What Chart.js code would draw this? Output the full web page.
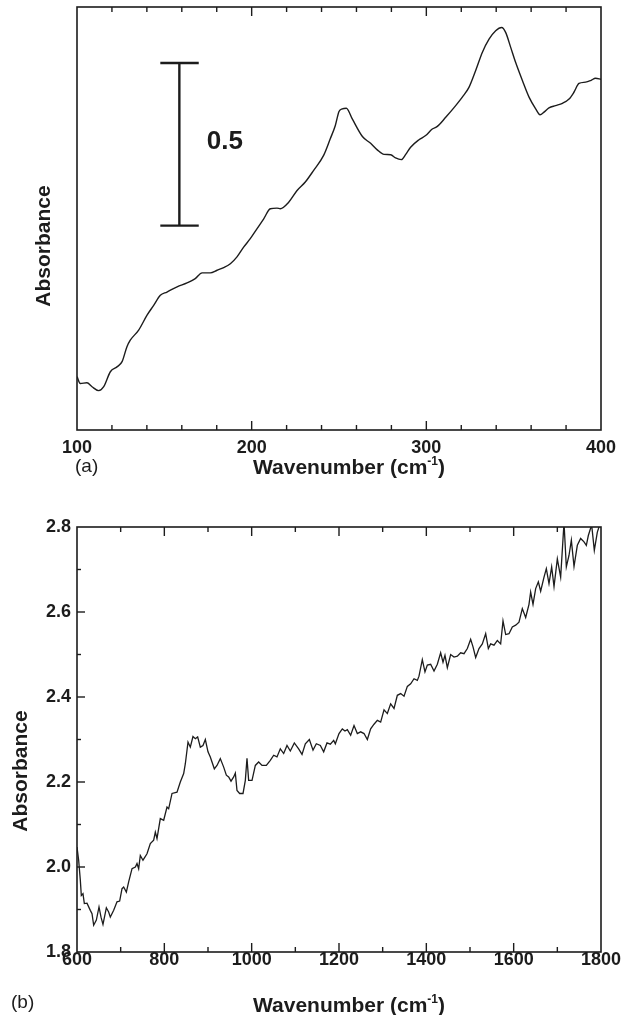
<!DOCTYPE html>
<html><head><meta charset="utf-8">
<script src="https://cdn.jsdelivr.net/npm/chart.js@4.4.1/dist/chart.umd.min.js"></script>
<style>
html,body{margin:0;padding:0;background:#fff;}
#wrap{position:relative;width:631px;height:1015px;overflow:hidden;background:#fff;}
canvas{position:absolute;left:0;}
#ca{top:0;} #cb{top:480px;}
</style></head><body>
<div id="wrap"><canvas id="ca" width="631" height="480"></canvas><canvas id="cb" width="631" height="535"></canvas></div>
<script>
const FONT = '"Liberation Sans", Arial, Helvetica, sans-serif';

// ---------- Panel (a): far-IR spectrum (arbitrary absorbance offset) ----------
const aWavenumber = [100,101.9,105.7,108.6,112.4,115.3,119.1,122.9,125.8,128.6,130.5,135.3,140.1,143.9,147.7,151.5,157.3,163.0,167.7,171.6,176.3,180.2,184.0,187.8,191.6,195.4,199.2,203.1,206.9,210.7,214.5,216.4,221.2,226.0,230.7,235.5,241.2,245.0,247.9,250.0,251.9,254.2,257.6,263.4,268.1,271.9,275.8,279.6,282.4,285.7,288.2,291.0,295.8,299.6,303.4,306.3,311.1,316.8,320.6,324.4,328.2,332.1,335.9,339.7,343.1,345.4,348.3,351.1,355.0,358.8,362.6,365.1,367.4,370.2,374.0,377.9,381.7,384.5,387.4,391.2,394.1,396.9,400];
const aAbsorbance = [0.164,0.143,0.145,0.133,0.121,0.133,0.179,0.194,0.210,0.256,0.276,0.307,0.353,0.383,0.414,0.424,0.440,0.452,0.465,0.483,0.483,0.491,0.499,0.511,0.532,0.562,0.588,0.619,0.649,0.680,0.682,0.680,0.700,0.736,0.762,0.798,0.844,0.895,0.936,0.979,0.987,0.989,0.956,0.902,0.881,0.861,0.847,0.846,0.836,0.831,0.847,0.869,0.892,0.905,0.925,0.933,0.961,0.997,1.023,1.053,1.104,1.161,1.201,1.227,1.237,1.222,1.176,1.130,1.074,1.023,0.987,0.969,0.977,0.990,0.997,1.004,1.017,1.038,1.065,1.069,1.074,1.081,1.078];
const aXRange = [100, 400];
const aYRange = [0, 1.3];
const aXLabels = [100, 200, 300, 400];
const aXMinor = [120,140,160,180,220,240,260,280,320,340,360,380];
// scale bar: 0.5 absorbance units
const scaleBarX = 158.6;
const scaleBarCap = [147.7, 169.7];
const scaleBarY = [0.628, 1.128];
const scaleBarText = '0.5';

// ---------- Panel (b): mid-IR spectrum ----------
const bWavenumber = [600,603.8,607.6,609.9,613.7,616.8,622.9,630.5,634.4,638.2,644.3,650.4,655.0,659.5,667.2,672.5,676.3,684.0,691.6,697.7,703.1,706.9,713.0,718.3,726.0,733.6,737.4,741.2,745.0,751.1,760.3,767.9,775.6,779.4,783.2,790.8,798.5,806.1,809.9,817.6,829.0,836.6,844.3,848.1,854.2,859.5,865.6,871.0,876.3,882.4,888.5,893.9,900.0,905.3,914.5,920.6,928.2,935.9,942.0,947.3,952.7,958.8,962.6,966.4,972.5,980.2,985.5,989.3,993.1,1000.8,1008.4,1016.0,1023.7,1033.6,1042.7,1050.4,1058.0,1065.6,1073.3,1080.9,1088.5,1097.7,1107.6,1115.3,1122.9,1132.1,1140.5,1148.1,1157.3,1164.9,1172.5,1180.2,1187.8,1191.6,1200.0,1207.6,1213.7,1219.1,1226.7,1234.4,1242.0,1249.6,1257.3,1264.9,1272.5,1280.2,1287.8,1295.4,1303.1,1310.7,1318.3,1326.0,1333.6,1341.2,1348.9,1356.5,1364.1,1371.8,1379.4,1383.2,1390.8,1396.9,1402.3,1409.9,1417.6,1425.2,1432.8,1438.2,1442.7,1448.1,1455.7,1463.4,1471.0,1478.6,1486.3,1493.9,1501.5,1506.9,1513.0,1520.6,1528.2,1535.9,1542.0,1547.3,1555.0,1562.6,1570.2,1575.6,1581.7,1589.3,1596.9,1604.6,1612.2,1619.8,1627.5,1635.1,1638.9,1644.3,1650.4,1656.5,1661.8,1669.5,1674.8,1680.9,1687.0,1692.4,1700.0,1707.6,1715.3,1720.6,1726.7,1732.1,1738.2,1745.8,1753.4,1761.1,1766.4,1771.0,1778.6,1784.7,1791.6,1795.4,1800];
const bAbsorbance = [2.047,2.016,1.969,1.933,1.937,1.914,1.915,1.898,1.890,1.863,1.875,1.906,1.882,1.865,1.904,1.894,1.882,1.898,1.918,1.920,1.949,1.953,1.941,1.965,1.996,2.000,2.008,1.996,2.027,2.016,2.031,2.055,2.063,2.082,2.067,2.114,2.110,2.141,2.137,2.173,2.176,2.200,2.220,2.243,2.294,2.282,2.307,2.302,2.306,2.282,2.286,2.300,2.271,2.259,2.231,2.239,2.255,2.235,2.216,2.212,2.202,2.212,2.221,2.180,2.173,2.173,2.204,2.256,2.204,2.204,2.239,2.247,2.239,2.239,2.251,2.263,2.259,2.278,2.267,2.286,2.273,2.292,2.278,2.265,2.290,2.300,2.275,2.290,2.286,2.271,2.292,2.289,2.298,2.290,2.314,2.325,2.320,2.323,2.310,2.333,2.314,2.318,2.314,2.300,2.325,2.336,2.345,2.341,2.370,2.361,2.384,2.373,2.404,2.408,2.402,2.425,2.431,2.443,2.439,2.449,2.488,2.459,2.475,2.477,2.461,2.477,2.504,2.482,2.498,2.469,2.500,2.494,2.496,2.504,2.502,2.514,2.536,2.518,2.493,2.514,2.525,2.549,2.514,2.525,2.522,2.533,2.525,2.579,2.547,2.549,2.565,2.569,2.576,2.608,2.587,2.618,2.647,2.618,2.655,2.671,2.649,2.682,2.702,2.667,2.706,2.660,2.725,2.682,2.810,2.706,2.733,2.769,2.707,2.757,2.773,2.765,2.757,2.780,2.805,2.745,2.788,2.800,2.810];
const bXRange = [600, 1800];
const bYRange = [1.8, 2.8];
const bXLabels = [600, 800, 1000, 1200, 1400, 1600, 1800];
const bXMinor = [700, 900, 1100, 1300, 1500, 1700];
const bYLabels = [1.8, 2.0, 2.2, 2.4, 2.6, 2.8];
const bYMinor = [1.9, 2.1, 2.3, 2.5, 2.7];

const xTitleMain = 'Wavenumber (cm';
const xTitleSup = '-1';
const xTitleEnd = ')';
const yTitle = 'Absorbance';

const INK = '#1c1c1c';

function pts(xs, ys){ return xs.map((x,i)=>({x, y: ys[i]})); }

function drawXTitle(ctx, cx, baseline){
  ctx.save();
  ctx.fillStyle = INK;
  ctx.textBaseline = 'alphabetic';
  ctx.textAlign = 'left';
  const fMain = 'bold 21px ' + FONT, fSup = 'bold 12px ' + FONT;
  ctx.font = fMain; const w1 = ctx.measureText(xTitleMain).width, w3 = ctx.measureText(xTitleEnd).width;
  ctx.font = fSup; const w2 = ctx.measureText(xTitleSup).width;
  let x = cx - (w1 + w2 + w3) / 2;
  ctx.font = fMain; ctx.fillText(xTitleMain, x, baseline); x += w1;
  ctx.font = fSup; ctx.fillText(xTitleSup, x, baseline - 9); x += w2;
  ctx.font = fMain; ctx.fillText(xTitleEnd, x, baseline);
  ctx.restore();
}
function drawYTitle(ctx, cx, cy){
  ctx.save();
  ctx.translate(cx, cy); ctx.rotate(-Math.PI/2);
  ctx.fillStyle = INK; ctx.font = 'bold 21px ' + FONT;
  ctx.textAlign = 'center'; ctx.textBaseline = 'middle';
  ctx.fillText(yTitle, 0, 0);
  ctx.restore();
}

function framePlugin(cfg){
  return {
    id: 'frameTicks',
    afterDatasetsDraw(chart){
      const {ctx, chartArea: a, scales} = chart;
      const x = scales.x, y = scales.y;
      ctx.save();
      ctx.strokeStyle = INK; ctx.lineWidth = 1.4;
      const seg = (x1,y1,x2,y2)=>{ ctx.beginPath(); ctx.moveTo(x1,y1); ctx.lineTo(x2,y2); ctx.stroke(); };
      const xt = (vals, len) => vals.forEach(v => {
        if (v <= x.min || v >= x.max) return;
        const p = x.getPixelForValue(v);
        seg(p, a.bottom, p, a.bottom - len);
        seg(p, a.top, p, a.top + len);
      });
      xt(cfg.xMajor, 9); xt(cfg.xMinor, 5);
      if (cfg.yMajor){
        const yt = (vals, len) => vals.forEach(v => {
          if (v <= y.min || v >= y.max) return;
          const p = y.getPixelForValue(v);
          seg(a.left, p, a.left + len, p);
        });
        yt(cfg.yMajor, 8); yt(cfg.yMinor, 4);
      }
      ctx.lineWidth = 1.6;
      ctx.strokeRect(a.left, a.top, a.right - a.left, a.bottom - a.top);
      ctx.restore();
    },
    afterDraw(chart){
      const ctx = chart.ctx;
      drawXTitle(ctx, cfg.xTitle[0], cfg.xTitle[1]);
      drawYTitle(ctx, cfg.yTitle[0], cfg.yTitle[1]);
      ctx.save();
      ctx.fillStyle = INK; ctx.font = '19px ' + FONT; ctx.textBaseline = 'alphabetic'; ctx.textAlign = 'left';
      ctx.fillText(cfg.panel[0], cfg.panel[1], cfg.panel[2]);
      ctx.restore();
      if (cfg.extra) cfg.extra(chart);
    }
  };
}

const tickFont = {family: FONT, size: 18, weight: 'bold'};

// ----- Chart (a)
new Chart(document.getElementById('ca'), {
  type: 'line',
  data: { datasets: [
    { data: pts(aWavenumber, aAbsorbance), borderColor: INK, borderWidth: 1.4, pointRadius: 0, tension: 0.35, cubicInterpolationMode: 'monotone', clip: 0 },
    { data: [{x: scaleBarX, y: scaleBarY[0]}, {x: scaleBarX, y: scaleBarY[1]}], borderColor: INK, borderWidth: 2.4, pointRadius: 0 },
    { data: [{x: scaleBarCap[0], y: scaleBarY[1]}, {x: scaleBarCap[1], y: scaleBarY[1]}], borderColor: INK, borderWidth: 2.4, pointRadius: 0 },
    { data: [{x: scaleBarCap[0], y: scaleBarY[0]}, {x: scaleBarCap[1], y: scaleBarY[0]}], borderColor: INK, borderWidth: 2.4, pointRadius: 0 }
  ]},
  options: {
    responsive: false, animation: false, devicePixelRatio: 1,
    layout: { padding: { top: 7, right: 30, left: 77, bottom: 0 } },
    plugins: { legend: {display: false}, tooltip: {enabled: false} },
    scales: {
      x: { type: 'linear', min: aXRange[0], max: aXRange[1],
        grid: { display: false, drawTicks: false }, border: { display: false },
        afterBuildTicks: s => { s.ticks = aXLabels.map(v => ({value: v})); },
        afterFit: s => { s.height = 50; },
        ticks: { font: tickFont, color: INK, padding: 7, autoSkip: false, maxRotation: 0, callback: v => String(v) } },
      y: { display: false, min: aYRange[0], max: aYRange[1] }
    }
  },
  plugins: [framePlugin({
    xMajor: aXLabels, xMinor: aXMinor,
    xTitle: [349, 474], yTitle: [44.5, 246], panel: ['(a)', 75, 472],
    extra(chart){
      const {ctx, scales:{x, y}} = chart;
      ctx.save(); ctx.fillStyle = INK; ctx.font = 'bold 26px ' + FONT;
      ctx.textAlign = 'left'; ctx.textBaseline = 'middle';
      const mid = (scaleBarY[0] + scaleBarY[1]) / 2;
      ctx.fillText(scaleBarText, x.getPixelForValue(scaleBarCap[1]) + 8, y.getPixelForValue(mid) - 2);
      ctx.restore();
    }
  })]
});

// ----- Chart (b)
new Chart(document.getElementById('cb'), {
  type: 'line',
  data: { datasets: [
    { data: pts(bWavenumber, bAbsorbance), borderColor: INK, borderWidth: 1.3, pointRadius: 0, tension: 0, clip: 0 }
  ]},
  options: {
    responsive: false, animation: false, devicePixelRatio: 1,
    layout: { padding: { top: 47, right: 30, left: 0, bottom: 0 } },
    plugins: { legend: {display: false}, tooltip: {enabled: false} },
    scales: {
      x: { type: 'linear', min: bXRange[0], max: bXRange[1],
        grid: { display: false, drawTicks: false }, border: { display: false },
        afterBuildTicks: s => { s.ticks = bXLabels.map(v => ({value: v})); },
        afterFit: s => { s.height = 63; },
        ticks: { font: tickFont, color: INK, padding: -3, autoSkip: false, maxRotation: 0, callback: v => String(v) } },
      y: { type: 'linear', min: bYRange[0], max: bYRange[1],
        grid: { display: false, drawTicks: false }, border: { display: false },
        afterBuildTicks: s => { s.ticks = bYLabels.map(v => ({value: v})); },
        afterFit: s => { s.width = 77; },
        ticks: { font: tickFont, color: INK, padding: 6, autoSkip: false, callback: v => Number(v).toFixed(1) } }
    }
  },
  plugins: [framePlugin({
    xMajor: bXLabels, xMinor: bXMinor, yMajor: bYLabels, yMinor: bYMinor,
    xTitle: [349, 532], yTitle: [21.7, 291], panel: ['(b)', 11, 528]
  })]
});
</script>
</body></html>
